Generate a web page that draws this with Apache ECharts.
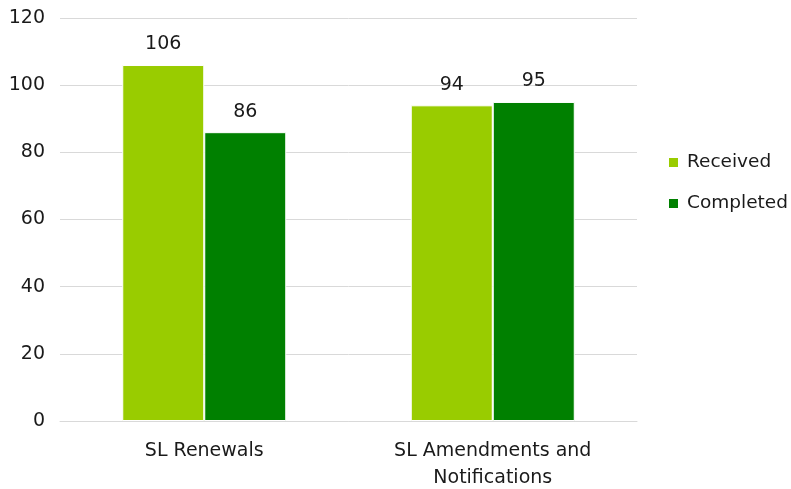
<!DOCTYPE html>
<html>
<head>
<meta charset="utf-8">
<script src="https://cdn.jsdelivr.net/npm/echarts@6/dist/echarts.min.js"></script>
<style>
html,body{margin:0;padding:0;background:#fff;}
#chart{width:791px;height:489px;}
</style>
</head>
<body>
<div id="chart"></div>
<script>
// Application counts by type
const categories = ['SL Renewals', 'SL Amendments and\nNotifications'];
const received = [106, 94];
const completed = [86, 95];
const yTicks = { min: 0, max: 120, interval: 20 };

const FONT = 'DejaVu Sans';
const chart = echarts.init(document.getElementById('chart'));

const barLabel = {
  show: true,
  position: 'top',
  distance: 11,
  fontFamily: FONT,
  fontSize: 19,
  color: '#1a1a1a'
};

chart.setOption({
  animation: false,
  textStyle: { fontFamily: FONT },
  grid: { left: 60, right: 154, top: 18, bottom: 68, containLabel: false, outerBoundsMode: 'none' },
  legend: {
    orient: 'vertical',
    left: 662,
    top: 148,
    itemWidth: 11,
    itemHeight: 11,
    itemGap: 22,
    icon: 'rect',
    textStyle: { fontFamily: FONT, fontSize: 18.5, color: '#1a1a1a', padding: [0, 0, 0, 3] },
    data: ['Received', 'Completed']
  },
  xAxis: {
    type: 'category',
    data: categories,
    axisLine: { lineStyle: { color: '#d9d9d9' } },
    axisTick: { show: false },
    axisLabel: {
      fontFamily: FONT,
      fontSize: 19,
      color: '#1a1a1a',
      margin: 17,
      lineHeight: 27
    }
  },
  yAxis: {
    type: 'value',
    min: yTicks.min,
    max: yTicks.max,
    interval: yTicks.interval,
    axisLine: { show: false },
    axisTick: { show: false },
    splitLine: { lineStyle: { color: '#d9d9d9' } },
    axisLabel: { fontFamily: FONT, fontSize: 19, color: '#1a1a1a', margin: 15 }
  },
  series: [
    {
      name: 'Received',
      type: 'bar',
      data: received,
      barWidth: 82,
      barGap: '0%',
      itemStyle: { color: '#99cc00', borderColor: '#ffffff', borderWidth: 1 },
      label: barLabel
    },
    {
      name: 'Completed',
      type: 'bar',
      data: completed,
      barWidth: 82,
      itemStyle: { color: '#008000', borderColor: '#ffffff', borderWidth: 1 },
      label: barLabel
    }
  ]
});
</script>
</body>
</html>
